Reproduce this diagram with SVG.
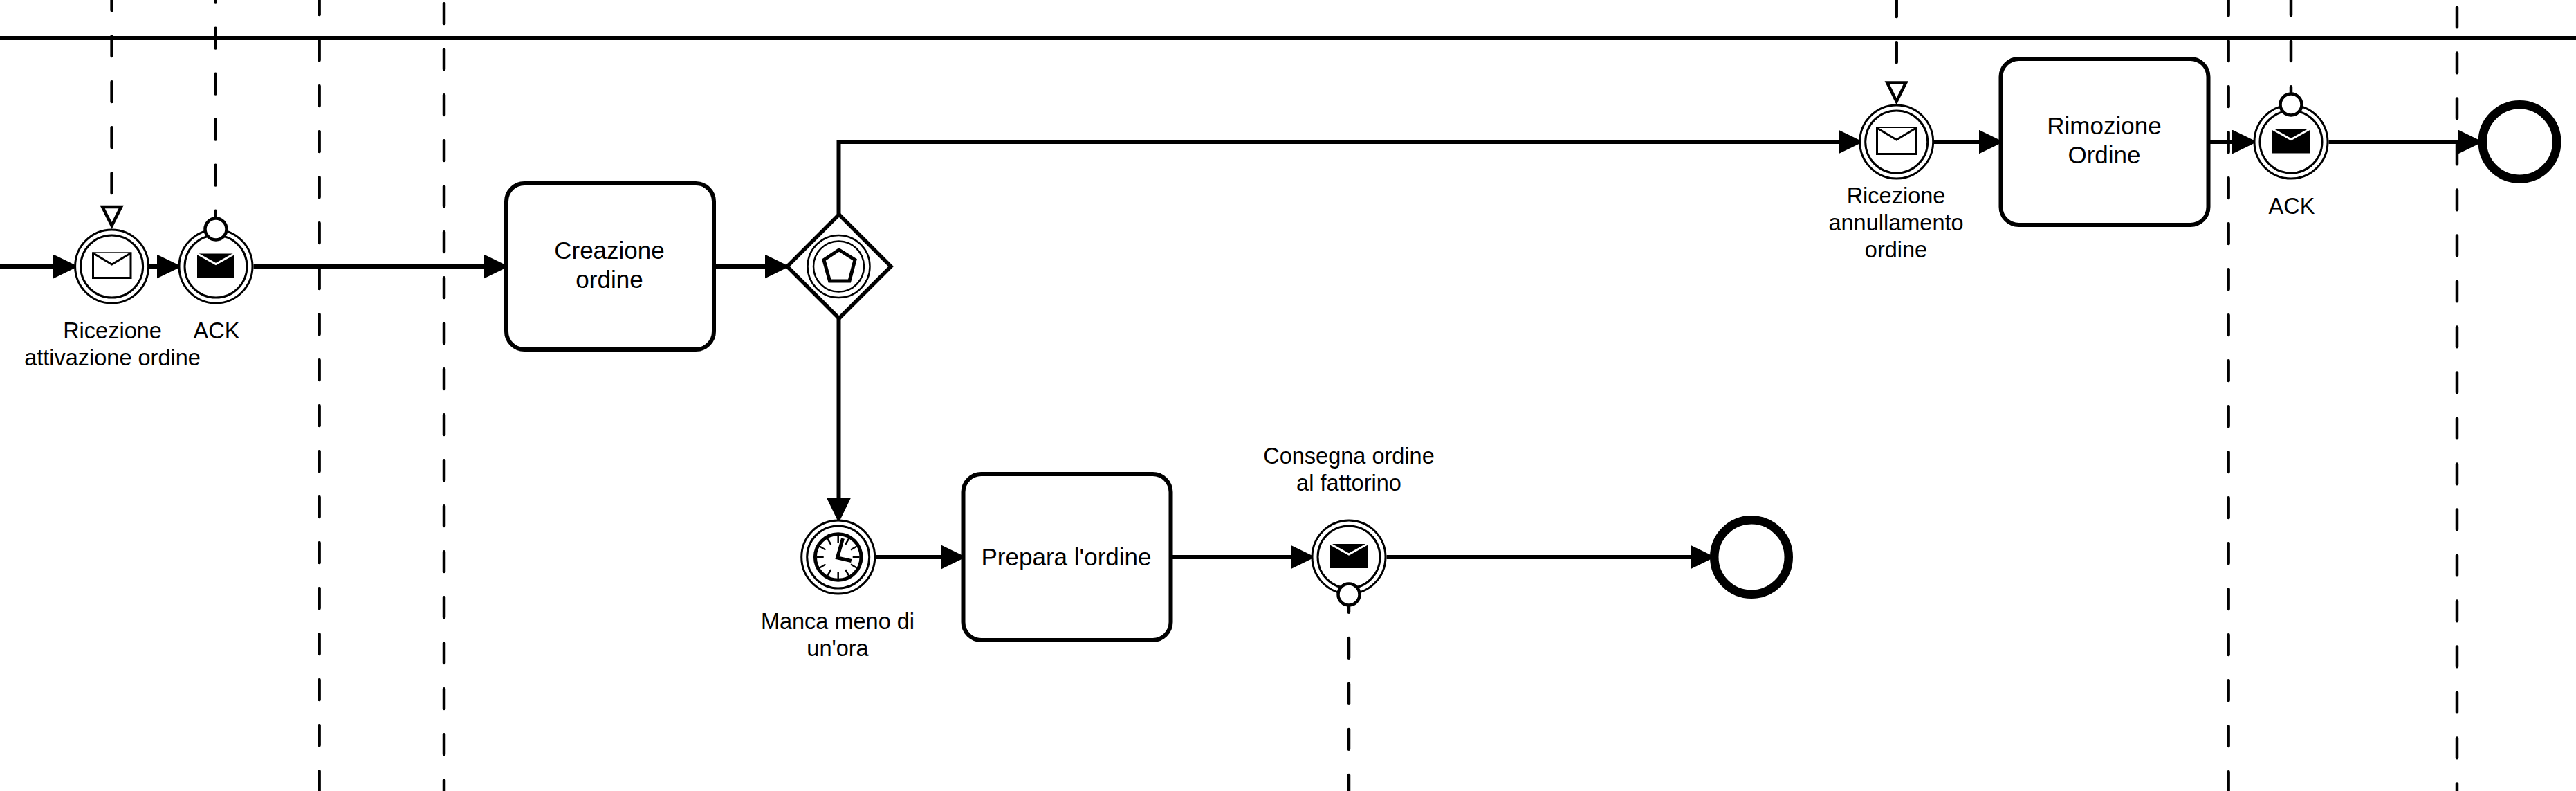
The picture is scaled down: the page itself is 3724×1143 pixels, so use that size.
<svg xmlns="http://www.w3.org/2000/svg" xmlns:xlink="http://www.w3.org/1999/xlink" width="3724" height="1143" viewBox="0 0 3724 1143">
<style>
text{font-family:"Liberation Sans",Arial,sans-serif;fill:#000;text-anchor:middle}
.t{font-size:35px}
.l{font-size:32.5px}
.seq{fill:none;stroke:#000;stroke-width:6;marker-end:url(#arrow)}
.msg{fill:none;stroke:#000;stroke-width:4.5;stroke-dasharray:28.8 37.2;stroke-linecap:round}
.to{marker-end:url(#open)}
.task{fill:#fff;stroke:#000;stroke-width:6}
.ring{fill:#fff;stroke:#000;stroke-width:3}
.end{fill:#fff;stroke:#000;stroke-width:12.5}
.dot{fill:#fff;stroke:#000;stroke-width:4.5}
.env{fill:#fff;stroke:#000;stroke-width:3;stroke-linejoin:miter}
.fenv{fill:#000;stroke:none}
.v{fill:none;stroke:#fff;stroke-width:3}
</style>
<defs>
<marker id="arrow" markerUnits="userSpaceOnUse" markerWidth="36" markerHeight="35" viewBox="0 0 36 35" refX="23" refY="17.5" orient="auto"><path d="M0 0L36 17.5L0 35Z" fill="#000"/></marker>
<marker id="open" markerUnits="userSpaceOnUse" markerWidth="40" markerHeight="39" viewBox="0 0 40 39" refX="30" refY="19.5" orient="auto"><polygon points="3,6 3,33 30,19.5" fill="#fff" stroke="#000" stroke-width="4.5"/></marker>
</defs>
<rect width="3724" height="1143" fill="#fff"/>
<g id="connectors">
<path id="pool-border" d="M0 55H3724" fill="none" stroke="#000" stroke-width="6"/>
<path class="msg to" d="M161.6 -13.8V326"/>
<path class="msg" d="M311.6 -25.2V320"/>
<path class="msg" d="M461.6 -7.8V1143"/>
<path class="msg" d="M642 5.2V1143"/>
<path class="msg" d="M1950 856V1143"/>
<path class="msg to" d="M2741.7 -4.8V146.5"/>
<path class="msg" d="M3221.6 -6.8V1143"/>
<path class="msg" d="M3312 -6.8V160"/>
<path class="msg" d="M3552 10.5V1143"/>
<path class="seq" d="M0 385H100"/>
<path class="seq" d="M216 385H249.5"/>
<path class="seq" d="M366.5 385H722.5"/>
<path class="seq" d="M1035 385H1128.5"/>
<path class="seq" d="M1212.5 310V205H2680.5"/>
<path class="seq" d="M1212.5 460V742.5"/>
<path class="seq" d="M1266 805H1383.5"/>
<path class="seq" d="M1695 805H1888.5"/>
<path class="seq" d="M2004.5 805H2466.5"/>
<path class="seq" d="M2796 205H2883.5"/>
<path class="seq" d="M3195 205H3250"/>
<path class="seq" d="M3366.5 205H3576.5"/>
</g>
<g id="evt-attivazione">
<circle class="ring" cx="161.6" cy="385" r="53"/><circle class="ring" cx="161.6" cy="385" r="45"/>
<rect class="env" x="134.5" y="365.8" width="54.5" height="35.7"/><path class="env" d="M134.5 365.8L161.7 382L189 365.8"/>
<text class="l" x="162.5" y="489">Ricezione</text><text class="l" x="162.5" y="528">attivazione ordine</text>
</g>
<g id="evt-ack-1">
<circle class="ring" cx="312" cy="385" r="53"/><circle class="ring" cx="312" cy="385" r="45"/>
<rect class="fenv" x="285" y="366.5" width="54" height="35"/><path class="v" d="M285 366.5L312 381.5L339 366.5"/>
<circle class="dot" cx="312" cy="331" r="15.5"/>
<text class="l" x="313" y="489">ACK</text>
</g>
<g id="task-creazione">
<rect class="task" x="732" y="265" width="300" height="240" rx="26"/>
<text class="t" x="881" y="373.5">Creazione</text><text class="t" x="881" y="415.5">ordine</text>
</g>
<g id="gateway">
<path d="M1213 310L1288 385L1213 460L1138 385Z" fill="#fff" stroke="#000" stroke-width="5.5"/>
<circle cx="1212.5" cy="385" r="45" fill="#fff" stroke="#000" stroke-width="2.5"/><circle cx="1212.5" cy="385" r="36.5" fill="#fff" stroke="#000" stroke-width="2.5"/>
<path d="M1213 361L1236 375.5L1228 406H1199.5L1191 375.5Z" fill="#fff" stroke="#000" stroke-width="5"/>
</g>
<g id="evt-timer">
<circle class="ring" cx="1211.7" cy="805" r="53"/><circle class="ring" cx="1211.7" cy="805" r="45"/>
<circle cx="1211.7" cy="805" r="33.3" fill="#fff" stroke="#000" stroke-width="5"/>
<path transform="translate(1211.7 805)" fill="none" stroke="#000" stroke-width="2.5" d="M0 -31V-21M0 21V31M-31 0H-21M21 0H31M15.5 -26.8L10.5 -18.2M15.5 26.8L10.5 18.2M-15.5 -26.8L-10.5 -18.2M-15.5 26.8L-10.5 18.2M26.8 -15.5L18.2 -10.5M26.8 15.5L18.2 10.5M-26.8 -15.5L-18.2 -10.5M-26.8 15.5L-18.2 10.5"/>
<path d="M1218.5 778L1210.5 806L1230.7 810.5" fill="none" stroke="#000" stroke-width="5"/>
<text class="l" x="1211" y="909">Manca meno di</text><text class="l" x="1211" y="948">un'ora</text>
</g>
<g id="task-prepara">
<rect class="task" x="1392.5" y="685" width="300" height="240" rx="26"/>
<text class="t" x="1541.5" y="817">Prepara l'ordine</text>
</g>
<g id="evt-consegna">
<circle class="ring" cx="1950" cy="805" r="53"/><circle class="ring" cx="1950" cy="805" r="45"/>
<rect class="fenv" x="1923" y="786" width="54" height="35"/><path class="v" d="M1923 786L1950 801L1977 786"/>
<circle class="dot" cx="1950" cy="859" r="15.5"/>
<text class="l" x="1950" y="669.5">Consegna ordine</text><text class="l" x="1950" y="708.5">al fattorino</text>
</g>
<g id="end-1">
<circle class="end" cx="2532" cy="805" r="53.75"/>
</g>
<g id="evt-annullamento">
<circle class="ring" cx="2741.7" cy="205" r="53"/><circle class="ring" cx="2741.7" cy="205" r="45"/>
<rect class="env" x="2713.5" y="185" width="56.5" height="37.5"/><path class="env" d="M2713.5 185L2741.7 202L2770 185"/>
<text class="l" x="2741" y="294">Ricezione</text><text class="l" x="2741" y="333">annullamento</text><text class="l" x="2741" y="372">ordine</text>
</g>
<g id="task-rimozione">
<rect class="task" x="2892.5" y="85" width="300" height="240" rx="26"/>
<text class="t" x="3042" y="193.5">Rimozione</text><text class="t" x="3042" y="235.5">Ordine</text>
</g>
<g id="evt-ack-2">
<circle class="ring" cx="3312" cy="205" r="53"/><circle class="ring" cx="3312" cy="205" r="45"/>
<rect class="fenv" x="3285" y="186.5" width="54" height="35"/><path class="v" d="M3285 186.5L3312 201.5L3339 186.5"/>
<circle class="dot" cx="3312" cy="151" r="15.5"/>
<text class="l" x="3313" y="309">ACK</text>
</g>
<g id="end-2">
<circle class="end" cx="3642.5" cy="205" r="53.75"/>
</g>
</svg>
